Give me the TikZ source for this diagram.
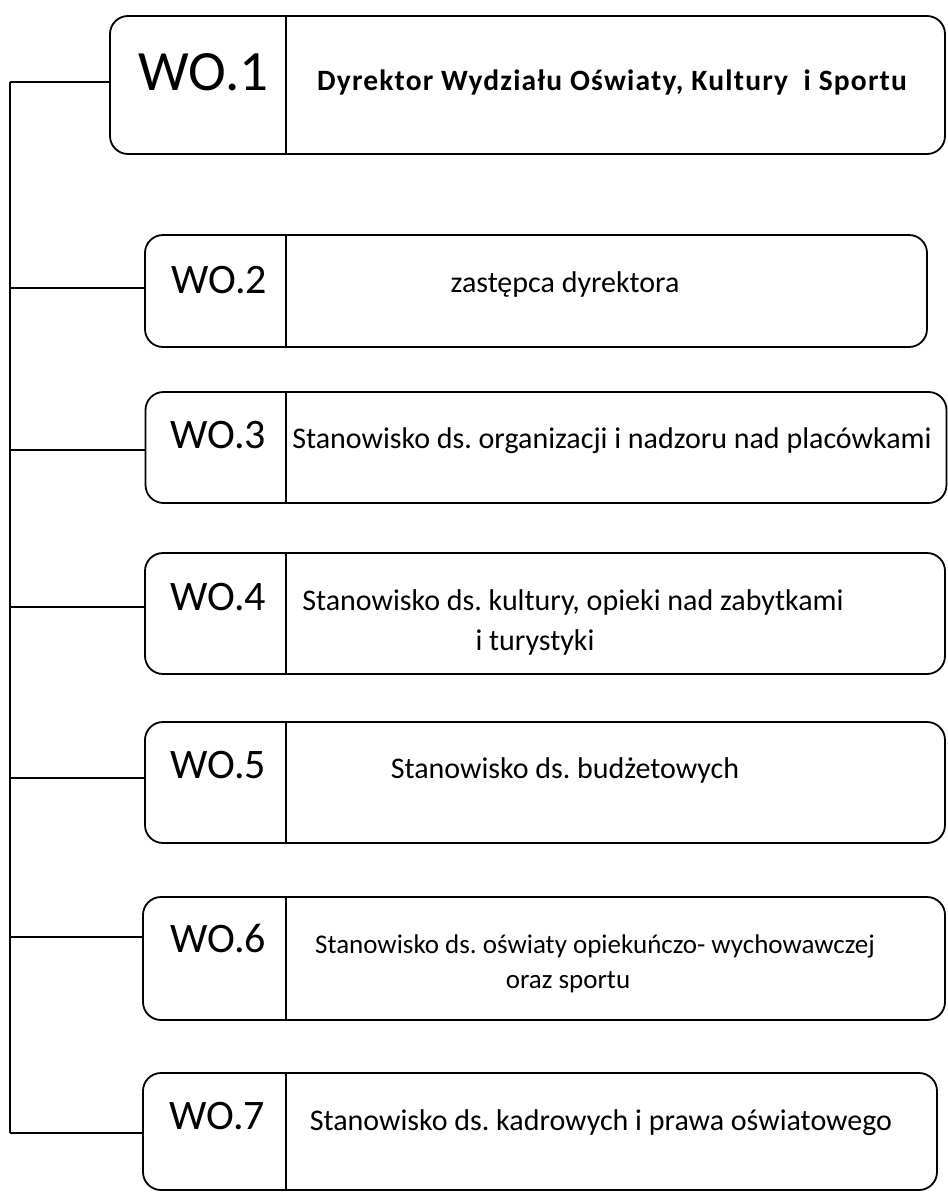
\documentclass[tikz,border=0pt]{standalone}
\usepackage{fontspec}
\setmainfont{Carlito}
\newfontfamily\headfont[LetterSpace=4]{Carlito}
\frenchspacing

\tikzset{
  unit/.style={draw, line width=1.8pt, rounded corners=18pt, inner sep=0pt},
  code/.style={anchor=base west, inner sep=0pt, font=\fontsize{42}{46}\selectfont},
  duty/.style={anchor=base, inner sep=0pt, align=center, font=\fontsize{30}{40}\selectfont},
  split/.style={line width=1.3pt},
  link/.style={line width=1.8pt},
}

\begin{document}
\begin{tikzpicture}[x=1pt, y=-1pt]
\useasboundingbox[fill=white] (0,0) rectangle (948,1192);
\coordinate (col) at (286,0);

% Director
\node[unit, minimum width=835pt, minimum height=138pt] (b1) at (527.5,85) {};
\draw[split] (b1.north -| col) -- (b1.south -| col);
\node[code, font=\fontsize{57}{60}\selectfont] (c1) at (138,90) {WO.1};
\node[duty, font=\headfont\bfseries\fontsize{29.5}{34}\selectfont] (t1) at (612,90) {Dyrektor Wydziału Oświaty, Kultury\ \ i Sportu};

% Deputy
\node[unit, minimum width=782pt, minimum height=112pt] (b2) at (536,291) {};
\draw[split] (b2.north -| col) -- (b2.south -| col);
\node[code] (c2) at (171,293) {WO.2};
\node[duty] (t2) at (565,292) {zastępca dyrektora};

% Posts (two-line texts sit on their last baseline)
\node[unit, minimum width=801pt, minimum height=111pt] (b3) at (546,447.5) {};
\draw[split] (b3.north -| col) -- (b3.south -| col);
\node[code] (c3) at (170,448) {WO.3};
\node[duty] (t3) at (612,448) {Stanowisko ds. organizacji i nadzoru nad placówkami};

\node[unit, minimum width=800pt, minimum height=121pt] (b4) at (545,613.5) {};
\draw[split] (b4.north -| col) -- (b4.south -| col);
\node[code] (c4) at (170,610) {WO.4};
\node[duty] (t4) at (573,650) {Stanowisko ds. kultury, opieki nad zabytkami\\i turystyki\hspace*{76pt}};

\node[unit, minimum width=800pt, minimum height=121pt] (b5) at (545,782.5) {};
\draw[split] (b5.north -| col) -- (b5.south -| col);
\node[code] (c5) at (170,778) {WO.5};
\node[duty] (t5) at (565,778) {Stanowisko ds. budżetowych};

\node[unit, minimum width=802pt, minimum height=123pt] (b6) at (544,958.5) {};
\draw[split] (b6.north -| col) -- (b6.south -| col);
\node[code] (c6) at (170,952) {WO.6};
\node[duty, font=\fontsize{27}{35}\selectfont] (t6) at (595,988) {Stanowisko ds. oświaty opiekuńczo- wychowawczej\\oraz sportu\hspace*{54pt}};

\node[unit, minimum width=794pt, minimum height=117pt] (b7) at (540,1131.5) {};
\draw[split] (b7.north -| col) -- (b7.south -| col);
\node[code] (c7) at (169,1129) {WO.7};
\node[duty] (t7) at (601,1130) {Stanowisko ds. kadrowych i prawa oświatowego};

% Trunk and taps
\coordinate (p1) at (10,82);
\coordinate (p2) at (10,288);
\coordinate (p3) at (10,450);
\coordinate (p4) at (10,607);
\coordinate (p5) at (10,778);
\coordinate (p6) at (10,937);
\coordinate (p7) at (10,1133);
\draw[link] (p1) -- (p7);
\draw[link] (p1) -- (p1 -| b1.west);
\draw[link] (p2) -- (p2 -| b2.west);
\draw[link] (p3) -- (p3 -| b3.west);
\draw[link] (p4) -- (p4 -| b4.west);
\draw[link] (p5) -- (p5 -| b5.west);
\draw[link] (p6) -- (p6 -| b6.west);
\draw[link] (p7) -- (p7 -| b7.west);
\end{tikzpicture}
\end{document}
